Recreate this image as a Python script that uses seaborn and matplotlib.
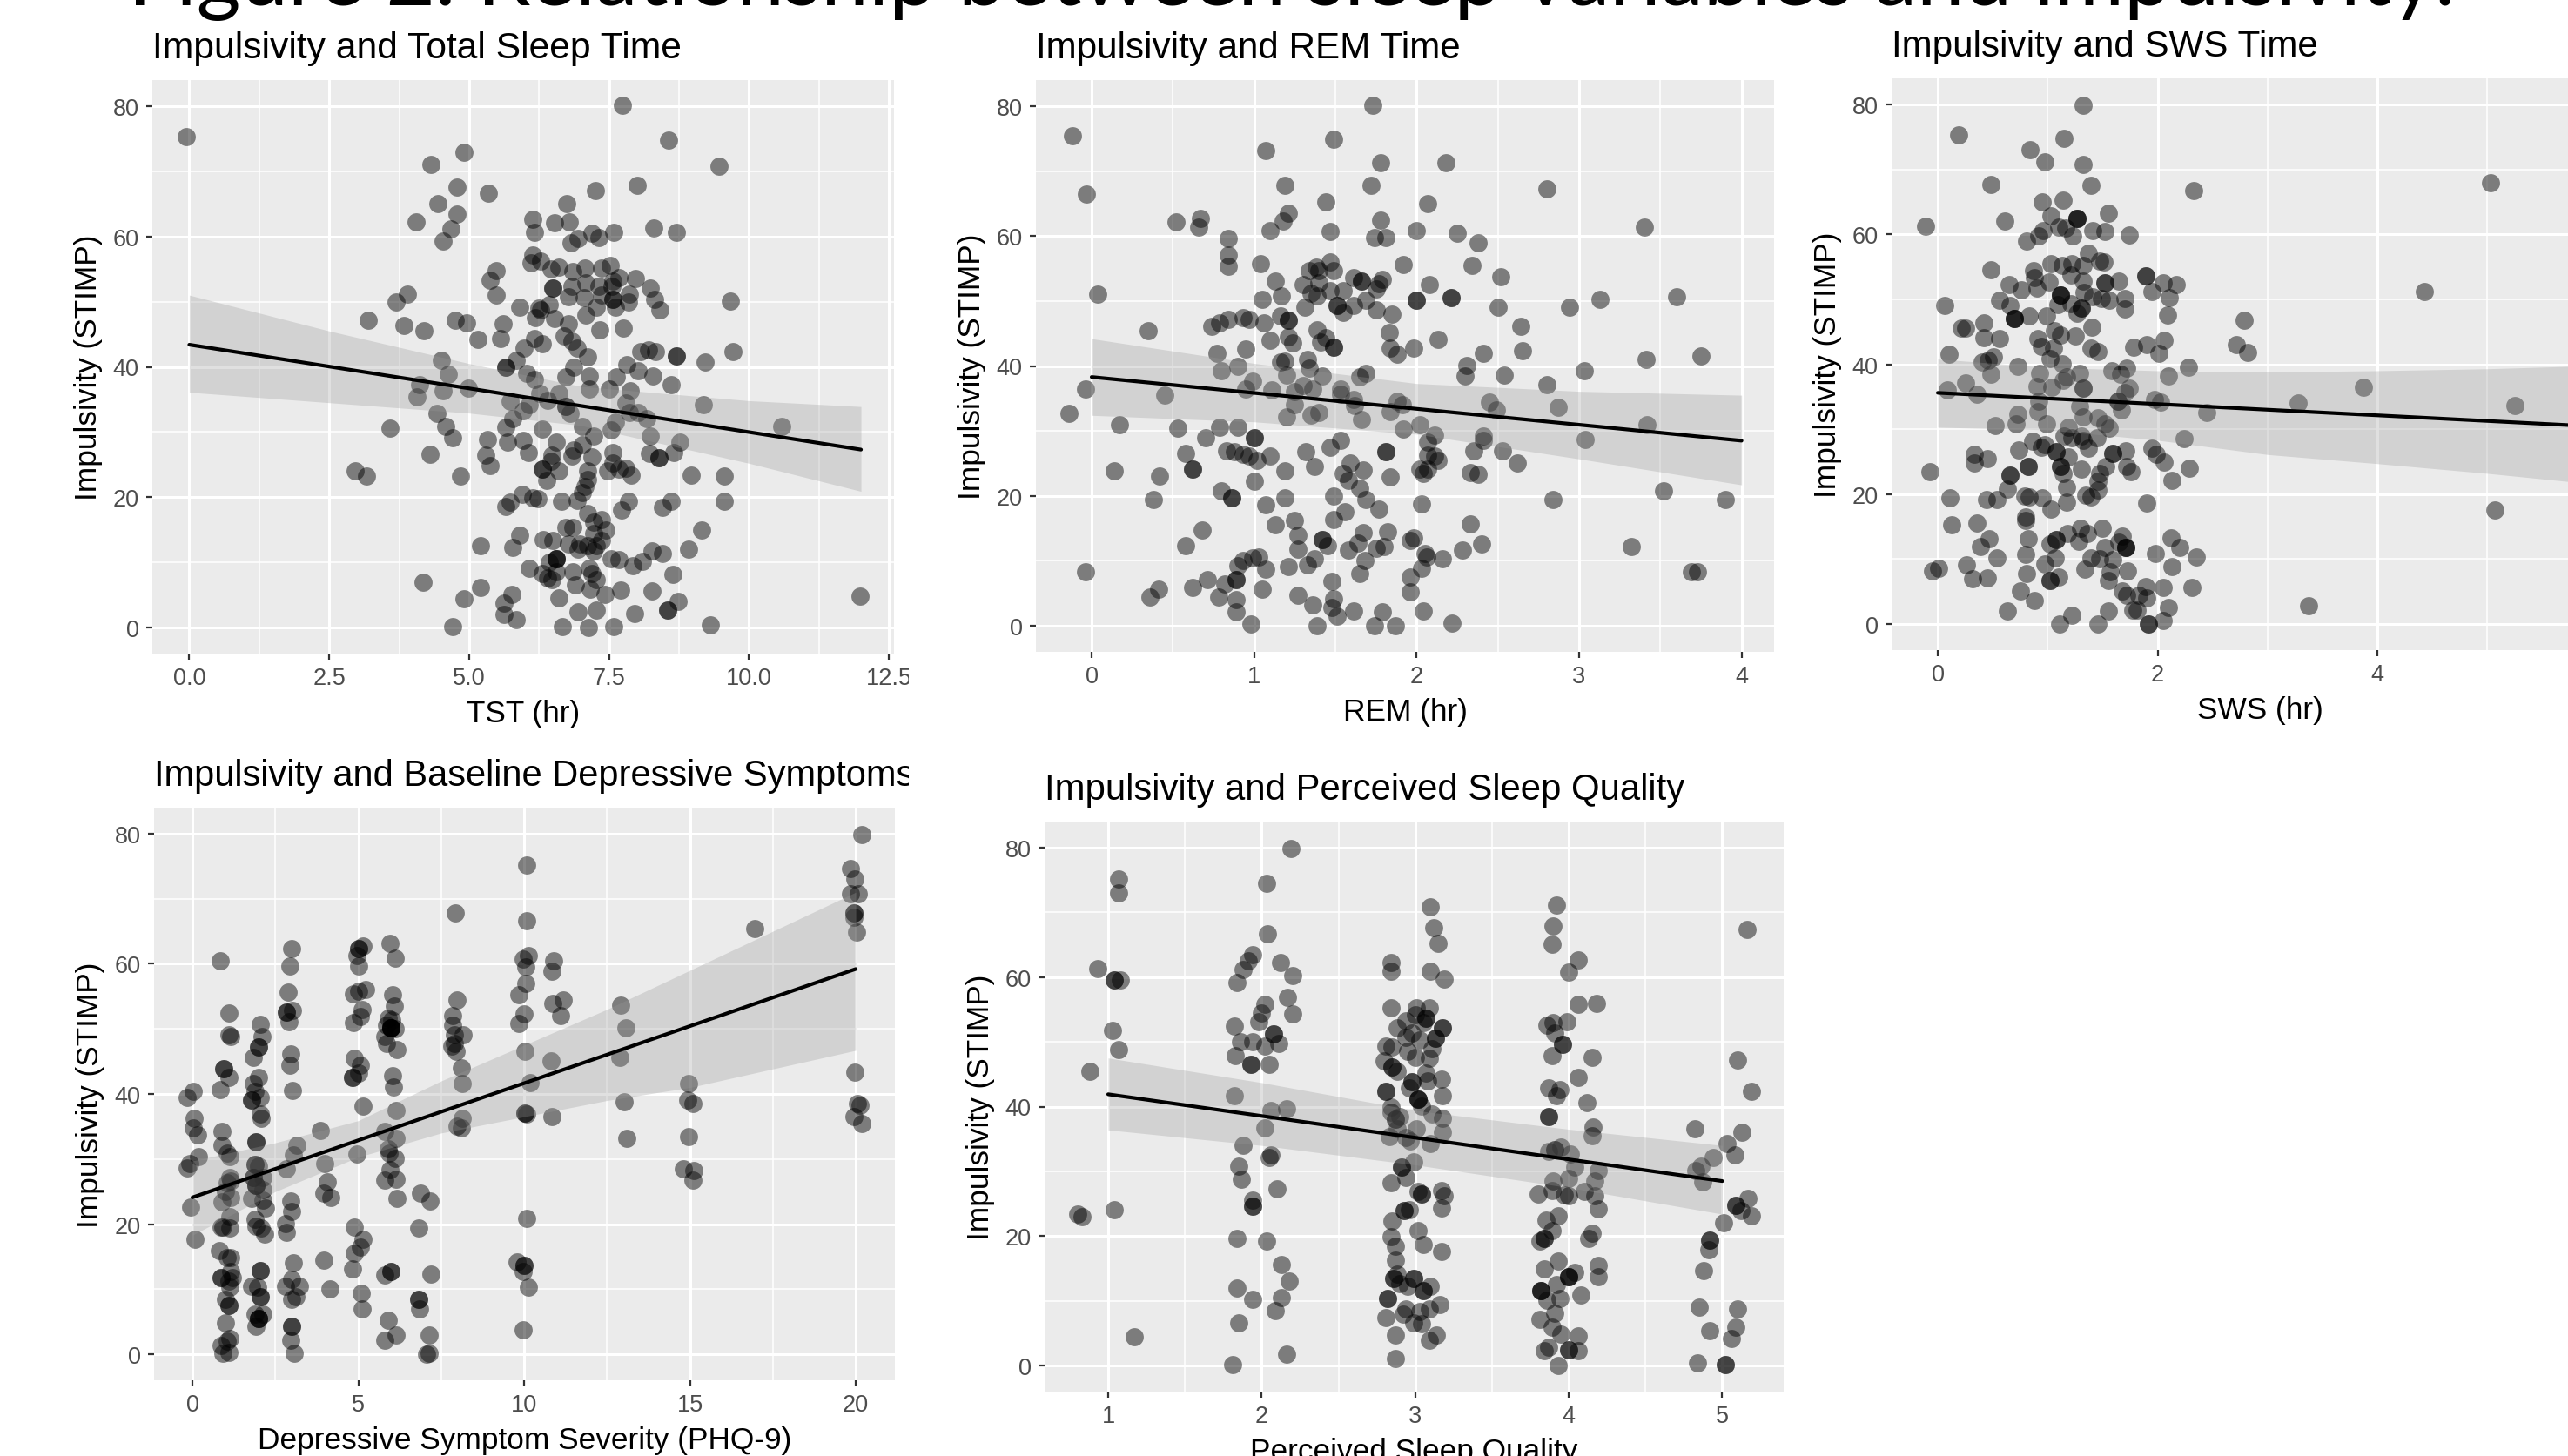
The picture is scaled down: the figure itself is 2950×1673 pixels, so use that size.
import matplotlib
matplotlib.use('Agg')
import matplotlib.pyplot as plt
from matplotlib.ticker import MultipleLocator
from matplotlib.transforms import Bbox
import seaborn as sns

################ data: (hours or score, STIMP) ################
tst_points = [(-0.06,75.3),(7.74,80.1),(8.56,74.8),(9.46,70.8),(4.32,71.1),(4.91,72.9),(4.78,67.6),(5.35,66.6),(7.25,67.1),(8.0,67.9),
(4.44,65.1),(6.74,65.0),(4.78,63.4),(4.05,62.3),(6.14,62.7),(6.53,62.1),(6.79,62.2),(4.68,61.1),(8.3,61.3),(8.7,60.6),(6.16,60.6),
(7.19,60.5),(7.59,60.6),(6.95,59.7),(7.32,59.8),(6.82,59.0),(4.54,59.3),(6.14,57.2),(6.1,55.9),(6.28,56.2),(5.48,54.8),(5.37,53.3),
(5.49,51.0),(3.9,51.2),(3.7,50.0),(3.19,47.1),(3.83,46.3),(4.19,45.6),(4.75,47.2),(4.95,46.8),(5.6,46.6),(5.16,44.2),(5.56,44.3),
(5.91,49.1),(6.24,49.0),(6.28,48.8),(6.47,55.0),(6.6,55.3),(6.85,54.6),(7.07,55.2),(7.37,55.2),(7.52,55.5),(7.67,53.7),(7.97,53.6),
(8.24,52.1),(8.31,50.4),(8.41,48.7),(7.87,51.2),(7.85,49.9),(7.57,53.2),(7.55,52.4),(7.32,52.3),(7.09,52.9),(6.83,52.4),(6.5,52.1),
(6.5,52.1),(6.77,50.8),(7.05,50.6),(7.37,51.0),(7.57,50.3),(7.57,50.3),(7.27,49.2),(7.62,49.2),(7.09,47.9),(6.43,49.5),(6.18,47.5),
(6.53,47.4),(6.78,46.6),(7.34,45.7),(7.75,45.9),(6.7,44.8),(6.83,43.9),(6.93,42.9),(6.16,44.3),(6.3,43.6),(5.98,42.9),(7.12,41.6),
(8.07,42.4),(8.21,42.6),(8.33,42.4),(8.7,41.7),(8.7,41.7),(9.21,40.8),(9.71,42.4),(9.67,50.1),(4.51,41),(5.84,41),(5.66,40),(5.66,40),
(7.82,40.3),(6.86,39.9),(8.02,39.4),(4.63,38.9),(6.02,39),(6.16,38.1),(7.15,38.6),(6.73,38.5),(7.63,38.5),(8.28,38.6),(8.61,37.2),
(7.15,36.6),(7.51,36.6),(7.88,36.3),(4.12,37.2),(4.07,35.4),(4.54,36.3),(4.98,36.7),(6.26,35.9),(6.6,35.9),(6.4,34.9),(5.73,34.7),
(6.08,34.2),(5.96,33.2),(7.8,34.4),(6.73,33.9),(6.73,33.9),(9.18,34.2),(6.8,32.9),(8.02,33),(7.87,33),(4.43,32.9),(5.78,32.1),(8.18,32),
(7.62,31.5),(7.54,30.3),(4.58,30.9),(3.58,30.6),(5.66,30.7),(6.3,30.5),(7.03,30.8),(10.58,30.9),(4.71,29.1),(5.32,28.9),(7.22,29.4),
(8.23,29.4),(5.68,28.5),(5.96,28.7),(6.56,28.5),(7.02,28.1),(8.76,28.4),(6.87,27.2),(6.06,26.9),(7.57,26.9),(8.66,26.9),(4.3,26.6),
(5.3,26.5),(6.48,26.5),(6.83,26.3),(7.19,26.2),(8.22,26.7),(8.39,26.1),(8.39,26.1),(7.57,25.2),(6.46,25.5),(2.96,24.1),(3.16,23.3),
(5.37,24.9),(6.31,24.3),(6.31,24.3),(6.61,24),(7.11,24.1),(7.47,24.1),(7.67,24.3),(7.8,24.5),(7.9,23.4),(4.84,23.3),(8.96,23.4),
(9.56,23.3),(6.38,22.6),(7.12,22.7),(7.07,21.6),(7.02,20.7),(5.95,20.5),(6.14,19.9),(6.23,19.8),(6.65,19.4),(6.93,19.5),(7.84,19.4),
(8.61,19.4),(9.55,19.4),(5.73,19.2),(5.65,18.6),(8.46,18.5),(7.72,18),(7.12,17.5),(7.37,16.5),(7.22,16.2),(6.73,15.4),(6.85,15.4),
(7.45,14.9),(9.16,14.9),(7.22,14.4),(5.91,14.1),(6.33,13.5),(6.5,13.3),(7.37,13.4),(6.78,12.8),(6.97,12.8),(5.21,12.5),(5.78,12.3),
(7.12,12.5),(7.27,12.5),(6.95,12),(7.22,11.7),(8.26,11.8),(8.46,11.4),(8.92,12),(7.54,10.6),(7.67,10.4),(8.09,10.1),(7.92,9.5),
(6.56,10.6),(6.56,10.6),(6.56,10.6),(6.43,10),(6.08,9.1),(7.15,9.1),(6.85,8.6),(6.56,8.6),(6.3,8.3),(7.19,8.3),(8.64,8.2),(6.4,7.6),
(6.48,7.3),(7.27,7.3),(4.18,7),(6.9,6.5),(5.21,6.2),(7.17,5.9),(7.71,5.7),(8.26,5.6),(7.42,5.1),(5.76,5.1),(6.6,4.6),(4.91,4.4),
(5.62,3.8),(8.73,4),(11.98,4.8),(7.27,2.7),(8.54,2.7),(8.54,2.7),(6.95,2.4),(7.95,2.2),(5.63,2),(5.84,1.2),(9.31,0.4),(4.71,0.1),
(6.67,0.1),(7.13,0),(7.59,0.2)]

rem_points = [(-0.12,75.4),(-0.03,66.5),(0.04,51.1),(0.35,45.4),(-0.04,36.4),(-0.14,32.7),(0.17,30.9),(0.14,23.9),(-0.04,8.3),(0.45,35.5),
(0.42,23),(0.38,19.5),(0.41,5.7),(0.36,4.4),(0.52,62.2),(0.67,62.7),(0.66,61.4),(0.53,30.4),(0.58,26.5),(0.62,24.1),(0.62,24.1),(0.58,12.4),
(0.68,14.7),(0.62,5.9),(0.71,7.1),(0.78,4.4),(0.74,46.1),(0.79,46.6),(0.84,47.2),(0.77,42),(0.8,39.2),(0.79,30.5),(0.7,29),(0.83,27),
(0.8,20.8),(0.86,19.7),(0.86,19.7),(0.82,6.4),(0.84,59.6),(0.84,57.1),(0.84,55.3),(0.93,47.4),(0.97,47.2),(0.95,42.6),(0.9,39.9),(0.99,37.7),
(0.95,36.4),(0.9,30.5),(0.88,26.8),(0.93,26.4),(0.97,26.2),(1.02,25.5),(1,29),(1,29),(1,22.3),(0.93,10.1),(0.9,9.2),(0.89,7.1),(0.89,7.1),
(0.89,4.1),(0.89,2.2),(0.98,0.3),(0.99,10.4),(1.03,10.6),(1.07,8.7),(1.05,5.7),(1.07,73.1),(1.19,67.8),(1.21,63.5),(1.18,62.3),(1.1,60.8),
(1.04,55.7),(1.13,53.1),(1.17,50.8),(1.05,50.3),(1.16,47.7),(1.21,47),(1.21,47),(1.06,46.6),(1.21,44.5),(1.24,43.6),(1.1,44),(1.16,40.6),
(1.19,40.8),(1.2,38.6),(1.11,36.3),(1.25,36.1),(1.25,34.1),(1.2,32.1),(1.19,23.9),(1.1,26.2),(1.19,19.7),(1.07,18.7),(1.13,15.6),(1.25,16.2),
(1.27,13.9),(1.27,11.8),(1.33,9.4),(1.37,10.3),(1.21,9.1),(1.27,4.7),(1.36,3.2),(1.39,0),(1.44,65.2),(1.49,74.9),(1.47,60.7),(1.47,56),
(1.34,54.7),(1.38,55.2),(1.49,54.7),(1.4,54.7),(1.3,52.5),(1.4,52.8),(1.35,51.2),(1.39,50.8),(1.47,51.6),(1.55,51.6),(1.51,49.3),(1.51,49.3),
(1.61,49.3),(1.31,49.1),(1.55,48.3),(1.39,45.6),(1.44,44.4),(1.41,43.7),(1.49,42.9),(1.49,42.9),(1.33,41),(1.34,39.6),(1.42,38.4),(1.3,37),
(1.36,36.5),(1.4,32.8),(1.35,32.4),(1.53,36.5),(1.53,35.7),(1.61,34.8),(1.62,33.9),(1.66,31.7),(1.53,28.5),(1.47,27.5),(1.32,26.8),(1.37,24.5),
(1.59,25),(1.67,24),(1.55,23.5),(1.58,22.4),(1.65,21.2),(1.69,19.4),(1.49,20),(1.56,17.5),(1.49,16.4),(1.77,17.9),(1.67,14.4),(1.64,12.8),
(1.58,11.7),(1.42,13.3),(1.42,13.3),(1.45,12.4),(1.68,10.1),(1.65,8.1),(1.48,6.8),(1.49,4.2),(1.48,2.8),(1.51,1.5),(1.61,2.3),(1.74,0),(1.87,0),
(1.79,2.2),(1.75,11.9),(1.8,12.2),(1.82,14.5),(1.73,80.1),(1.78,71.3),(1.72,67.8),(1.78,62.4),(1.74,59.7),(1.81,59.8),(1.66,53),(1.66,53),
(1.61,53.6),(1.79,53.3),(1.77,52.6),(1.75,51.9),(1.69,50.1),(1.75,48.6),(1.85,48),(1.83,45.1),(1.84,42.8),(1.88,41.8),(1.69,38.9),(1.65,38.3),
(1.88,34.6),(1.91,34.1),(1.84,33),(1.92,30.3),(1.81,26.8),(1.81,26.8),(1.84,22.9),(1.92,55.6),(2,60.8),(2.07,65),(2.18,71.3),(2.08,52.5),
(2,50.1),(2,50.1),(2.21,50.5),(2.21,50.5),(2.13,44.1),(1.98,42.7),(2.02,30.9),(2.11,29.3),(2.07,28.3),(2.07,26.3),(2.11,26.1),(2.13,25.5),
(2.07,24.1),(2.02,24.1),(2.04,23.4),(2.03,18.8),(1.98,13.5),(1.96,13.2),(2.05,11.2),(2.06,10.6),(2.16,10.3),(2.03,8.8),(1.96,7.5),(1.96,5.2),
(2.04,2.3),(2.22,0.4),(2.28,11.7),(2.33,15.7),(2.4,12.6),(2.33,23.6),(2.38,23.3),(2.35,27),(2.41,29.2),(2.41,28.5),(2.53,27),(2.62,25),
(2.49,33.2),(2.45,34.4),(2.3,38.5),(2.31,40.1),(2.41,41.9),(2.54,38.6),(2.65,42.4),(2.64,46.1),(2.5,49),(2.52,53.7),(2.34,55.5),(2.38,59),
(2.25,60.4),(2.8,67.3),(3.4,61.3),(2.94,49.1),(3.13,50.3),(3.6,50.6),(3.75,41.6),(3.41,41),(3.03,39.2),(2.8,37.1),(2.87,33.6),(3.42,30.9),
(3.04,28.7),(2.84,19.4),(3.52,20.8),(3.9,19.5),(3.32,12.2),(3.69,8.3),(3.73,8.3)]

sws_points = [(1.32,79.8),(0.19,75.3),(1.15,74.7),(0.84,73),(0.97,71.1),(1.32,70.8),(0.48,67.6),(1.39,67.5),(2.33,66.7),(5.03,67.9),(0.95,65),
(1.14,65.2),(1.55,63.2),(1.03,62.9),(0.61,62),(1.27,62.4),(1.27,62.4),(1.27,62.4),(-0.11,61.2),(1.1,61.1),(1.23,59.7),(1.16,60.9),(1.41,60.6),
(1.52,60.4),(1.74,59.9),(0.96,60.6),(0.92,59.7),(0.81,58.9),(1.03,55.5),(1.37,57.1),(1.13,55.2),(1.22,55.5),(1.32,55.2),(1.47,55.9),(1.51,55.7),
(0.48,54.5),(0.87,54.4),(1.21,53.7),(0.88,53.3),(1.32,52.8),(1.89,53.6),(1.89,53.6),(1.65,52.8),(1.52,52.5),(1.52,52.5),(0.65,52.3),(1.01,52.6),
(2.05,52.5),(2.17,52.2),(0.76,51.4),(0.9,51.7),(1.95,51.2),(1.33,51),(1.12,50.7),(1.12,50.7),(1.12,50.7),(1.41,50.4),(1.49,50.1),(1.56,49.9),
(1.7,50.1),(2.11,50.3),(0.56,49.9),(0.06,49.1),(0.66,49.1),(1.09,49.2),(1.21,49.3),(1.31,48.6),(1.31,48.6),(1.27,47.9),(1.7,48.5),(2.09,47.6),
(0.7,47),(0.7,47),(0.7,47),(0.83,47.5),(0.99,47.4),(2.79,46.8),(0.21,45.6),(0.25,45.6),(0.42,46.3),(1.4,45.7),(1.06,45.1),(1.12,44.5),(1.25,44.4),
(0.42,44.1),(0.56,44),(0.91,44),(2.06,43.7),(0.94,42.7),(1.05,42.5),(1.9,43),(2.72,43),(1.78,42.6),(1.39,42.5),(1.46,41.9),(0.1,41.6),(2.01,41.7),
(2.82,41.8),(0.51,41.2),(1.02,40.9),(0.46,40.6),(0.4,40.3),(1.13,40.1),(0.73,39.7),(1.72,39.4),(2.28,39.5),(1.58,39),(1.66,38.5),(0.48,38.5),
(0.93,38.6),(1.29,38.6),(2.1,38.2),(1.17,38.1),(1.14,37.5),(0.25,37.1),(0.9,36.6),(1.04,36.4),(1.32,36.3),(1.32,36.3),(1.74,36.3),(1.7,35.6),
(0.09,36.1),(0.36,35.4),(3.87,36.4),(1.97,34.6),(2.03,34.2),(0.92,34.3),(1.64,34.3),(1.64,34.3),(1.29,33.5),(3.28,34),(5.25,33.6),(0.91,32.7),
(1.67,33),(2.45,32.5),(0.73,32.3),(1.32,31.9),(1.46,31.7),(0.71,30.8),(0.99,30.8),(0.52,30.5),(1.52,30.8),(1.56,30.1),(1.19,30.3),(1.15,29),
(1.22,28.7),(1.31,29),(1.45,28.7),(1.32,28.3),(2.24,28.5),(0.86,28.2),(0.97,27.6),(0.94,27.2),(1.37,27.1),(1.95,27.1),(0.74,26.8),(1.71,26.7),
(1.59,26.3),(1.59,26.3),(1.08,26.5),(1.08,26.5),(1.99,26.1),(0.33,26.1),(0.33,24.8),(0.45,25.5),(1.19,25.8),(2.06,24.9),(0.82,24.2),(0.82,24.2),
(1.12,24.2),(1.12,24.2),(2.29,24),(1.31,23.9),(1.53,24.2),(1.72,24.3),(1.76,23.4),(1.14,23.2),(-0.07,23.4),(0.66,22.9),(0.66,22.9),(1.47,23.2),
(1.46,22),(2.13,22.1),(0.63,20.8),(1.17,21),(1.46,20.7),(1.35,19.8),(0.79,19.7),(0.83,19.6),(0.11,19.4),(0.44,19.2),(0.54,19.2),(0.95,19.4),
(1.39,19.6),(1.17,18.8),(1.9,18.6),(1.03,17.7),(0.8,16.5),(0.8,16),(0.13,15.3),(0.36,15.6),(5.07,17.6),(1.5,14.7),(1.3,14.7),(1.18,14),(1.36,13.9),
(1.68,13.6),(2.12,13.3),(0.82,13.2),(0.47,13.1),(1.08,13),(1.08,13),(1.02,12.3),(1.28,12.7),(1.65,12.6),(1.71,11.8),(1.71,11.8),(1.71,11.8),
(2.2,11.8),(0.39,12),(1.52,11.8),(0.8,10.7),(1.98,10.9),(2.35,10.3),(0.54,10.2),(1.07,10.2),(1.39,10.2),(1.47,10.1),(1.59,9.9),(0.26,9.1),(0.97,9.3),
(2.13,8.9),(-0.05,8.2),(0.01,8.6),(1.34,8.5),(1.57,8.1),(1.73,8.2),(0.81,7.8),(0.32,7),(0.45,7.1),(1.02,6.7),(1.02,6.7),(1.1,7.3),(1.55,6.7),(1.89,5.8),
(2.05,5.7),(2.31,5.7),(0.75,5.1),(1.68,5.1),(1.72,4.5),(1.83,4.4),(1.9,4),(0.88,3.7),(3.37,2.8),(2.1,2.5),(1.77,2.2),(1.81,2.1),(0.63,2),(1.55,2),
(1.22,1.3),(1.11,0),(1.46,0),(2.05,0.5),(1.92,0),(1.92,0),(4.43,51.2)]

phq_points = [(-0.17,39.5),(0.03,40.4),(0.05,36.2),(0.02,34.8),(0.15,33.7),(0.18,30.4),(-0.08,29.3),(-0.17,28.6),(-0.05,22.6),(0.07,17.7),
(0.85,60.5),(1.09,52.4),(1.09,49.1),(1.16,48.8),(0.85,40.7),(0.95,43.9),(0.95,43.9),(1.09,42.6),(0.89,34.2),(0.9,32.1),(1.04,30.9),(1.12,30.4),
(1.12,27.1),(1.06,26.4),(1.16,26.6),(0.99,25),(0.89,23.4),(1.16,24.1),(1.12,21.1),(0.87,19.5),(0.92,19.5),(1.12,19.4),(0.82,15.9),(1.04,14.8),
(1.16,14.8),(0.87,11.8),(0.87,11.8),(1.16,12.7),(1.21,11.8),(1.09,11.3),(1.12,10.3),(0.99,8.5),(1.09,7.5),(1.09,7.5),(0.99,4.8),(1.12,2.4),(0.87,1.3),
(0.92,0.1),(1.09,0.3),(1.06,2),(2.04,50.7),(2.09,48.8),(1.99,47.2),(1.99,47.2),(1.84,45.6),(1.99,42.5),(1.83,41.6),(1.88,40.4),(2.04,39.5),(1.79,39),
(1.79,39),(2.04,36.9),(2.08,36.3),(1.91,32.7),(1.91,32.7),(1.88,29.2),(1.88,29.2),(1.99,28.9),(2.13,27.1),(1.83,27.1),(1.83,27.1),(1.91,26),(1.91,26),
(1.91,26),(2.13,25.3),(1.79,23.9),(2.13,23.7),(2.21,22.5),(1.88,20.8),(1.91,19.7),(2.08,19.4),(2.19,18.5),(2.04,12.9),(2.04,12.9),(1.79,10.5),(1.96,10.3),
(2.04,8.9),(2.04,8.9),(1.88,6.1),(2.13,6.2),(1.99,5.5),(1.99,5.5),(1.99,5.5),(1.91,4.3),(2.98,62.3),(2.93,59.6),(2.88,55.6),(2.83,52.6),(2.83,52.6),
(3.02,52.8),(2.91,51.1),(2.96,46.2),(2.93,44.4),(3.02,40.6),(3.15,32.1),(3.05,30.7),(2.83,28.5),(2.96,23.6),(2.99,22),(2.8,20.1),(2.83,18.7),(3.05,14.1),
(2.99,11.5),(2.8,10.4),(3.22,10.4),(3.13,8.9),(2.99,8.5),(2.99,4.3),(2.99,4.3),(2.96,2.2),(3.07,0.1),(3.87,34.4),(3.99,29.3),(4.07,26.5),(3.97,24.8),
(4.17,24.1),(3.95,14.5),(4.15,10.1),(5.01,62.4),(5.01,62.4),(5.14,62.8),(4.97,61.2),(5.01,59.6),(4.86,55.4),(5.01,55.8),(5.21,56.1),(5.11,53),(5.06,51.9),
(4.86,50.9),(4.89,45.5),(5.06,44.4),(5.01,43.2),(4.82,42.6),(4.82,42.6),(5.14,38.1),(4.97,30.8),(4.89,19.5),(5.14,17.7),(5.06,16.4),(4.87,15.5),(4.84,13.1),
(5.08,9.4),(5.13,7),(5.96,63.2),(6.11,60.8),(6.03,55.2),(6.1,53.5),(5.9,51.6),(6.01,51.4),(5.98,50.2),(5.98,50.2),(5.98,50.2),(5.98,50.2),(5.98,50.2),(5.86,50.5),
(5.81,48.8),(6.11,50),(5.86,47.7),(6.18,46.8),(6.03,42.8),(6.05,41.1),(6.15,37.5),(5.81,34.3),(6.13,33.2),(5.9,31.6),(5.93,30.9),(6.11,30.1),(5.95,28.3),
(5.81,26.7),(6.15,26.9),(6.18,23.9),(5.81,12.2),(5.98,12.7),(5.98,12.7),(5.9,5.2),(5.81,2.2),(6.13,2.9),(6.88,24.8),(7.17,23.6),(6.82,19.4),(7.19,12.3),
(6.82,8.5),(6.82,8.5),(6.85,7),(7.15,3),(7.15,0.1),(7.07,0),(7.92,67.8),(7.99,54.4),(7.84,52.1),(7.84,50.5),(7.91,49.1),(8.16,49.1),(7.91,47.7),(7.82,47.4),
(7.96,46.5),(8.11,44),(8.14,41.6),(8.14,36.3),(7.99,35.1),(8.11,34.8),(10.07,75.2),(10.08,66.6),(10.12,61.2),(9.98,60.7),(10.05,59.5),(10.05,57),(9.85,55.2),
(10,52.3),(9.85,50.8),(10.03,46.6),(10.17,41.7),(10.03,37),(10.03,37),(10.07,36.9),(10.07,20.9),(9.8,14.2),(10,13.6),(10,13.6),(9.97,12.7),(10.12,10.3),(9.98,3.7),
(10.89,60.5),(10.84,58.9),(11.19,54.4),(10.87,53.9),(11.11,52.1),(10.82,45.1),(10.85,36.5),(12.9,53.6),(13.07,50.2),(12.88,45.6),(13.03,38.8),(13.1,33.2),
(14.96,41.6),(14.94,39),(15.08,38.5),(14.96,33.5),(14.81,28.5),(15.11,28.2),(15.09,26.8),(16.95,65.4),(20.18,79.9),(19.83,74.7),(19.97,73.1),(19.83,70.8),
(20.07,70.8),(19.95,67.8),(19.95,67.8),(19.95,67.1),(20.02,64.9),(19.97,43.4),(20.05,38.5),(20.13,38.3),(19.95,36.5),(20.18,35.5)]

psq_points = [(1.07,75.2),(1.07,73),(0.93,61.3),(1.04,59.5),(1.04,59.5),(1.08,59.5),(1.03,51.8),(1.07,48.8),(0.88,45.4),(1.04,24.1),(0.8,23.4),(0.83,23),(1.17,4.4),
(2.19,79.9),(2.03,74.5),(2.04,66.7),(1.94,63.5),(1.91,62.5),(1.88,61.2),(2.12,62.3),(2.2,60.2),(1.84,59.2),(2.17,56.9),(2.02,55.8),(2.2,54.3),(2,54.5),(1.98,53.1),
(1.82,52.4),(2.08,51.2),(2.08,51.2),(1.86,50),(1.94,50),(2.11,49.8),(2.02,49.4),(1.83,47.9),(1.93,46.5),(1.93,46.5),(2.05,46.5),(1.82,41.7),(2.06,39.4),(2.16,39.7),
(2.02,36.7),(1.88,34),(2.06,32.5),(2.05,32.1),(1.85,30.8),(1.87,28.8),(2.1,27.3),(1.94,25.5),(1.94,24.6),(1.94,24.6),(1.84,19.7),(2.03,19.2),(2.13,15.6),(2.18,13),
(1.84,12),(1.94,10.2),(2.13,10.5),(2.09,8.5),(1.85,6.6),(2.16,1.8),(1.81,0.2),(3.1,70.9),(3.12,67.6),(3.15,65.2),(2.84,62.2),(2.84,60.9),(3.1,60.9),(3.19,59.7),
(2.84,55.2),(3.01,55.2),(3.09,55.2),(3,54.2),(2.94,53.2),(3.07,53.6),(3.07,53.6),(3.05,52.9),(3.18,52.2),(3.18,52.2),(2.88,52.1),(2.98,51.4),(2.94,50.7),(3.03,50.3),
(3.13,50.5),(3.13,50.5),(2.81,49.3),(2.85,49.2),(3.11,48.9),(2.95,48.5),(3,47.6),(3.09,47.4),(2.8,47.1),(2.85,46.1),(2.85,46.1),(2.88,45.5),(3.07,45.2),(3.17,44.2),
(3.08,44),(2.98,43.8),(2.98,43.8),(2.96,42.9),(2.81,42.4),(2.81,42.4),(3.18,41.7),(3.02,41.2),(3.02,41.2),(3.02,41.2),(3.04,40.1),(2.84,40),(3.11,38.9),(2.84,39.1),
(3.18,38.2),(2.9,38.4),(2.87,38),(2.87,38),(2.88,36.6),(3.01,36.6),(3.18,36.1),(2.83,35.4),(2.94,35.2),(2.97,34.7),(3.1,34.3),(2.99,31.5),(2.91,30.6),(2.91,30.6),
(2.94,29.1),(2.84,28.2),(3.02,26.9),(3.04,26.5),(3.04,26.5),(3.17,27.1),(3.19,26.2),(3.17,24.4),(2.93,23.9),(2.93,23.9),(2.96,24.1),(2.85,22.4),(3.02,20.8),(2.84,19.9),
(2.87,18.5),(3.05,18.7),(3.17,17.6),(2.87,16.3),(2.88,14.1),(2.86,13.4),(2.86,13.4),(2.9,12.7),(2.95,12.3),(2.99,13.4),(2.99,13.4),(3.1,12.2),(3.05,11.6),(3.05,11.6),
(2.82,10.4),(2.82,10.4),(3.16,9.4),(2.94,8.7),(3.09,8.8),(2.92,7.9),(3.03,8.4),(2.81,7.4),(2.99,6.6),(3.04,6.5),(2.87,4.8),(3.14,4.7),(3.09,3.9),(2.87,1.1),
(3.92,71.1),(3.9,67.9),(3.89,65),(4.06,62.6),(4,60.7),(4.06,55.8),(4.18,55.9),(3.99,53.1),(3.9,53),(3.86,52.5),(3.91,51.4),(3.96,49.6),(3.96,49.6),(3.89,47.8),
(4.15,47.6),(4.06,44.5),(3.87,42.9),(3.94,42.6),(3.92,41.7),(4.12,40.6),(3.87,38.4),(3.87,38.4),(4.16,36.9),(4.15,35.5),(3.91,33.4),(3.91,33.4),(3.95,33.8),(3.87,33.1),
(4.01,32.7),(4.04,30.6),(4.19,30.1),(4,28.9),(3.9,28.5),(4.17,28.5),(3.8,26.5),(3.89,27),(3.97,26.4),(4,26.2),(4.1,26.9),(4.17,26.2),(4.19,24.2),(3.93,23.1),(3.85,22.5),
(3.89,20.8),(3.84,19.7),(3.84,19.7),(3.81,19.2),(4.15,20.5),(4.13,19.6),(3.93,16.2),(3.84,15),(4.19,15.5),(4.19,13.7),(4.04,14.4),(4,13.7),(4,13.7),(4,13.7),(3.92,12.5),
(3.82,11.6),(3.82,11.6),(3.82,11.6),(3.86,10.1),(3.94,10.4),(4.08,10.9),(3.91,8.1),(3.81,7.2),(3.89,6),(3.95,4.9),(4.06,4.6),(3.87,2.8),(3.84,2.3),(4,2.5),(4,2.5),(4.06,2.3),
(3.93,0),(5.16,67.4),(5.1,47.2),(5.19,42.3),(4.82,36.6),(5.13,36),(5.03,34.3),(5.08,32.6),(4.94,32.1),(4.86,30.8),(4.83,30.1),(4.87,28.4),(5.17,25.8),(5.09,24.8),(5.09,24.8),
(5.12,23.9),(5.19,23.2),(5.01,22.1),(4.92,19.4),(4.92,19.4),(4.91,17.9),(4.88,14.7),(4.85,9),(5.1,8.7),(5.09,5.9),(4.92,5.4),(5.06,4.2),(4.84,0.4),(5.02,0.1),(5.02,0.1)]

################ fit lines and confidence bands ################
tst_fit_x = [0, 12]
tst_fit_y = [43.4, 27.3]
tst_band_x = [0, 2.5, 5, 7, 10, 12]
tst_band_lo = [36.1, 34.5, 32.9, 31, 25.2, 20.9]
tst_band_hi = [51, 45.5, 40.5, 37, 34.8, 33.9]

rem_fit_x = [0, 4]
rem_fit_y = [38.3, 28.5]
rem_band_x = [0, 1, 2, 3, 4]
rem_band_lo = [32.4, 31.4, 29.5, 25.7, 21.7]
rem_band_hi = [44.2, 40.4, 37.3, 36.1, 35.5]

sws_fit_x = [0, 6]
sws_fit_y = [35.6, 30.4]
sws_band_x = [0, 1, 2, 3, 4, 5, 6]
sws_band_lo = [30.3, 29.9, 28.3, 26.1, 24.7, 23.2, 21.5]
sws_band_hi = [40.8, 39.5, 39, 38.8, 39, 39.3, 39.8]

phq_fit_x = [0, 20]
phq_fit_y = [24.1, 59.2]
phq_band_x = [0, 2.5, 5, 7.5, 10, 12.5, 15, 20]
phq_band_lo = [18.3, 25, 30.3, 34, 36.5, 39, 41, 46.7]
phq_band_hi = [29.7, 32.5, 35.9, 42, 47.5, 53, 59, 71]

psq_fit_x = [1, 5]
psq_fit_y = [41.9, 28.5]
psq_band_x = [1, 2, 3, 4, 5]
psq_band_lo = [36.4, 34, 31, 27.5, 23.4]
psq_band_hi = [47.5, 43.7, 39.4, 36.5, 34]

W, H = 2950, 1674
sns.set_theme(style="darkgrid", rc={"axes.facecolor": "#EBEBEB", "grid.color": "white",
                                    "xtick.bottom": True, "ytick.left": True})
plt.rcParams['font.family'] = ['Liberation Sans', 'DejaVu Sans']
fig = plt.figure(figsize=(W / 100, H / 100), dpi=100, facecolor='white')


def panel(box, xlim, major, minor, points, fit_x, fit_y, band_x, band_lo, band_hi, title, xlabel, title_size=30.3, ticks=None):
    left, top, right, bottom = box
    ax = fig.add_axes([left / W, 1 - bottom / H, (right - left) / W, (bottom - top) / H])
    ax.set_axisbelow(True)
    sns.scatterplot(x=[p[0] for p in points], y=[p[1] for p in points], color='black', alpha=0.47,
                    s=225, linewidth=0, ax=ax, clip_on=True)
    ax.fill_between(band_x, band_lo, band_hi, color='#999999', alpha=0.3, linewidth=0)
    sns.lineplot(x=fit_x, y=fit_y, color='black', linewidth=3, errorbar=None, ax=ax)
    ax.set_xlim(*xlim)
    ax.set_ylim(-4, 84)
    ax.xaxis.set_major_locator(MultipleLocator(major))
    ax.xaxis.set_minor_locator(MultipleLocator(minor))
    ax.yaxis.set_major_locator(MultipleLocator(20))
    ax.yaxis.set_minor_locator(MultipleLocator(10))
    if ticks:
        ax.set_xticks(ticks[0])
        ax.set_xticklabels(ticks[1])
    ax.grid(which='major', color='white', linewidth=2.2)
    ax.grid(which='minor', color='white', linewidth=1.1)
    for s in ax.spines.values():
        s.set_visible(False)
    ax.tick_params(which='major', length=5, width=1.6, color='#333333', labelcolor='#4D4D4D', labelsize=19.5, pad=6)
    ax.tick_params(which='minor', length=0)
    ax.set_title(title, loc='left', fontsize=title_size, color='black', pad=18.5)
    ax.set_xlabel(xlabel, fontsize=25.4, color='black', labelpad=8)
    ax.set_ylabel('Impulsivity (STIMP)', fontsize=25.4, color='black', labelpad=8)
    return ax


ax1 = panel((175, 93, 1027, 752), (-0.66, 12.59), 2.5, 1.25, tst_points, tst_fit_x, tst_fit_y, tst_band_x, tst_band_lo, tst_band_hi,
            'Impulsivity and Total Sleep Time', 'TST (hr)', title_size=30.7,
            ticks=([0, 2.5, 5, 7.5, 10, 12.5], ['0.0', '2.5', '5.0', '7.5', '10.0', '12.5']))
ax2 = panel((1190, 93, 2038, 750), (-0.343, 4.2), 1, 0.5, rem_points, rem_fit_x, rem_fit_y, rem_band_x, rem_band_lo, rem_band_hi,
            'Impulsivity and REM Time', 'REM (hr)')
ax3 = panel((2173, 91, 3019, 748), (-0.42, 6.28), 2, 1, sws_points, sws_fit_x, sws_fit_y, sws_band_x, sws_band_lo, sws_band_hi,
            'Impulsivity and SWS Time', 'SWS (hr)')
ax4 = panel((177, 929, 1028, 1587), (-1.155, 21.18), 5, 2.5, phq_points, phq_fit_x, phq_fit_y, phq_band_x, phq_band_lo, phq_band_hi,
            'Impulsivity and Baseline Depressive Symptoms', 'Depressive Symptom Severity (PHQ-9)', title_size=30)
ax5 = panel((1200, 945, 2049, 1600), (0.586, 5.4), 1, 0.5, psq_points, psq_fit_x, psq_fit_y, psq_band_x, psq_band_lo, psq_band_hi,
            'Impulsivity and Perceived Sleep Quality', 'Perceived Sleep Quality', title_size=30.2)

# the left column was cropped on its right side
crop = Bbox([[0, 0], [1044, H]])
ax4._left_title.set_clip_box(crop)
ax4._left_title.set_clip_on(True)
for lab in ax1.get_xticklabels():
    lab.set_clip_box(crop)
    lab.set_clip_on(True)

fig.text(147 / W, 1 - 6 / H, 'Figure 2. Relationship between sleep variables and impulsivity.',
         fontsize=70.4, family=['Lato', 'DejaVu Sans'], color='black', ha='left', va='baseline')

plt.savefig('out.png', dpi=100)
